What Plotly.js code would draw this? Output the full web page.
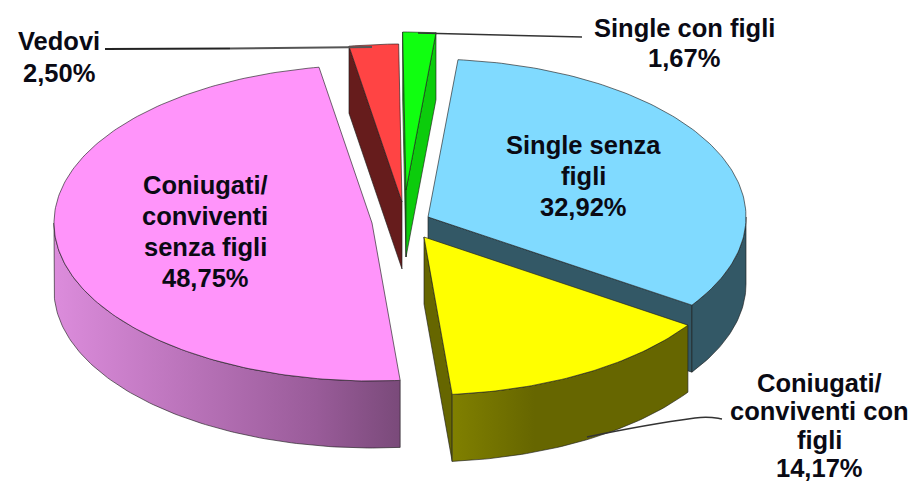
<!DOCTYPE html>
<html>
<head>
<meta charset="utf-8">
<script src="https://cdn.plot.ly/plotly-3.0.1.min.js"></script>
<style>html,body{margin:0;padding:0;background:#fff}#chart{width:915px;height:485px}</style>
</head>
<body>
<div id="chart"></div>
<script>
// Data, in drawing order round the pie (clockwise)
const categories = ["Single con figli", "Single senza figli", "Coniugati/conviventi con figli", "Coniugati/conviventi senza figli", "Vedovi"];
const values = [1.67, 32.92, 14.17, 48.75, 2.50];
const labels = [["Single con figli", "1,67%"], ["Single senza", "figli", "32,92%"], ["Coniugati/", "conviventi con", "figli", "14,17%"], ["Coniugati/", "conviventi", "senza figli", "48,75%"], ["Vedovi", "2,50%"]];

// Styles
const topColors = ["#10FF10", "#80DAFF", "#FFFF00", "#FF94FA", "#FF4444"];
const sideColors = ["#0CCC0C", "#335866", "#666600", "#B070B0", "#661C1C"];
const sideGradients = [null, null, [[0, "#808000"], [0.35, "#666600"], [1, "#666600"]], [[0, "#DC8CDC"], [0.75, "#9A5C9A"], [1, "#7A4A7A"]], null];

// Layout of the exploded pie
const centerX = [406, 428, 424, 372, 402];
const centerY = [190, 217, 237, 223, 202];
const radiusX = 318, radiusY = 158, depth = 67;
const firstAngle = -0.6;
const labelX = [684, 583, 819, 205, 59];
const labelY = [43, 176, 425.5, 231, 57];
const lineGap = [30, 31, 28.5, 31, 32];
const drawOrder = [4, 0, 1, 3, 2];
const outline = "rgba(30,30,30,0.8)";

const total = values.reduce((a, b) => a + b, 0);
const rad = d => d * Math.PI / 180;
const starts = [];
values.reduce((acc, v, i) => { starts[i] = acc; return acc + v / total * 360; }, firstAngle);

function pt(i, a, dz) {
  return [centerX[i] + radiusX * Math.sin(rad(a)), centerY[i] - radiusY * Math.cos(rad(a)) + (dz || 0)];
}
function arc(i, a0, a1, dz) {
  const out = [];
  const n = Math.max(2, Math.ceil(Math.abs(a1 - a0)));
  for (let k = 0; k <= n; k++) out.push(pt(i, a0 + (a1 - a0) * k / n, dz));
  return out;
}
function poly(name, pts, color, gradient) {
  const x = pts.map(p => p[0]).concat([pts[0][0]]);
  const y = pts.map(p => p[1]).concat([pts[0][1]]);
  const t = {type: "scatter", mode: "lines", name, x, y, fill: "toself", fillcolor: color,
    line: {color: outline, width: 0.8}, hoverinfo: "name", showlegend: false};
  if (gradient) {
    t.fillgradient = {type: "horizontal", colorscale: gradient, start: Math.min(...x), stop: Math.max(...x)};
  }
  return t;
}

const traces = [];
drawOrder.forEach(i => {
  const a0 = starts[i], a1 = a0 + values[i] / total * 360;
  const apex = [centerX[i], centerY[i]];
  const apexLow = [centerX[i], centerY[i] + depth];
  // visible radial walls
  if (Math.sin(rad(a0)) < 0) traces.push(poly(categories[i] + " (lato)", [apex, pt(i, a0), pt(i, a0, depth), apexLow], sideColors[i]));
  if (Math.sin(rad(a1)) > 0) traces.push(poly(categories[i] + " (lato)", [apex, pt(i, a1), pt(i, a1, depth), apexLow], sideColors[i]));
  // visible outer wall: the part of the rim facing the viewer
  const w0 = Math.max(a0, 90), w1 = Math.min(a1, 270);
  if (w1 > w0) {
    traces.push(poly(categories[i] + " (bordo)", arc(i, w0, w1, 0).concat(arc(i, w1, w0, depth)), sideColors[i], sideGradients[i]));
  }
  // top face
  traces.push(poly(categories[i], [apex].concat(arc(i, a0, a1, 0)), topColors[i]));
});

const annotations = [];
labels.forEach((lines, i) => {
  lines.forEach((line, k) => {
    annotations.push({
      x: labelX[i], y: labelY[i] + (k - (lines.length - 1) / 2) * lineGap[i],
      xref: "x", yref: "y", text: "<b>" + line + "</b>",
      showarrow: false, xanchor: "center", yanchor: "middle", align: "center",
      font: {family: "Liberation Sans, Arial, sans-serif", size: 25.5, color: "#0a0a14"}
    });
  });
});

const leader = (x0, y0, x1, y1, col, w) => ({type: "line", xref: "x", yref: "y", x0, y0, x1, y1, line: {color: col, width: w}, layer: "above"});
const shapes = [
  leader(105, 49, 230, 48.5, "#222", 2), leader(230, 48.5, 372, 47, "#555", 2),
  leader(418, 33, 582, 37, "#333", 1.6),
  {type: "path", xref: "x", yref: "y", path: "M 587 437 C 630 428, 680 420, 695 418 S 715 418, 722 419", line: {color: "#333", width: 1.5}}
];

Plotly.newPlot("chart", traces, {
  width: 915, height: 485,
  margin: {l: 0, r: 0, t: 0, b: 0},
  paper_bgcolor: "#fff", plot_bgcolor: "#fff",
  xaxis: {range: [0, 915], visible: false, fixedrange: true},
  yaxis: {range: [485, 0], visible: false, fixedrange: true},
  annotations, shapes, showlegend: false
}, {displayModeBar: false, staticPlot: true});
</script>
</body>
</html>
